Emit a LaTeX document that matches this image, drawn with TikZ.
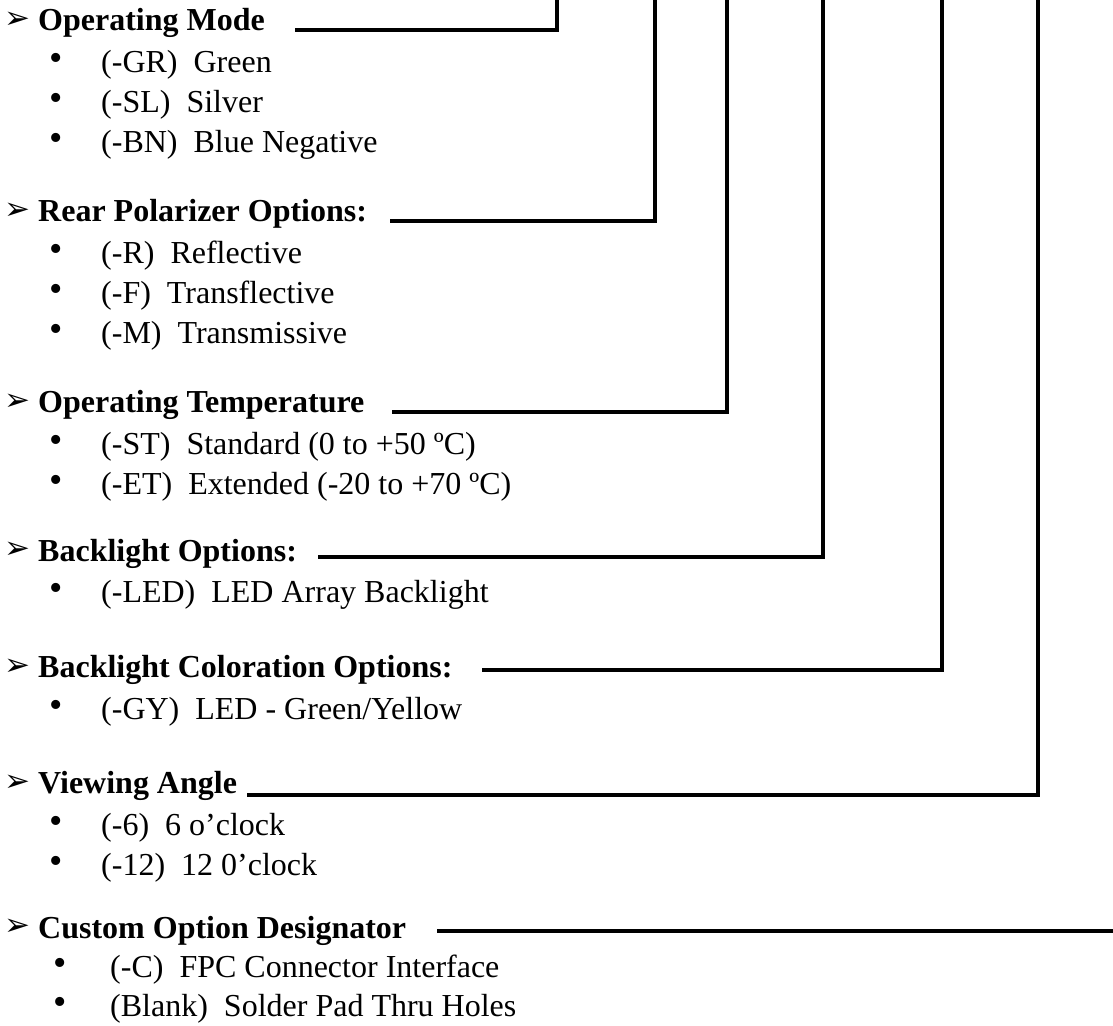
\documentclass[tikz,border=0pt]{standalone}
\usepackage{fontspec}
\setmainfont{Liberation Serif}
\newfontfamily\arrowfont{DejaVu Sans}
\begin{document}
\begin{tikzpicture}[x=1pt,y=-1pt,
  hdr/.style={anchor=base west,inner sep=0pt,font=\fontsize{32}{38}\selectfont\bfseries},
  itm/.style={anchor=base west,inner sep=0pt,font=\fontsize{32}{38}\selectfont},
  bul/.style={anchor=center,inner sep=0pt,font=\fontsize{38}{40}\selectfont},
  arr/.style={anchor=center,inner sep=0pt,font=\arrowfont\fontsize{31}{32}\selectfont},
  conn/.style={line width=3.3pt}]
\useasboundingbox (0,0) rectangle (1113,1025);
% ---- Section 1
\node[arr] (a1) at (17,20) {➢};
\node[hdr] (h1) at (38,30.5) {Operating Mode};
\node[bul] (b11) at (56,61.5) {•};
\node[itm] (i11) at (101,72) {(-GR)\ \ Green};
\node[bul] (b12) at (56,101.5) {•};
\node[itm] (i12) at (101,112) {(-SL)\ \ Silver};
\node[bul] (b13) at (56,141.5) {•};
\node[itm] (i13) at (101,152) {(-BN)\ \ Blue Negative};
% ---- Section 2
\node[arr] (a2) at (17,211) {➢};
\node[hdr] (h2) at (38,221.5) {Rear Polarizer Options:};
\node[bul] (b21) at (56,252.5) {•};
\node[itm] (i21) at (101,263) {(-R)\ \ Reflective};
\node[bul] (b22) at (56,292.5) {•};
\node[itm] (i22) at (101,303) {(-F)\ \ Transflective};
\node[bul] (b23) at (56,332.5) {•};
\node[itm] (i23) at (101,343) {(-M)\ \ Transmissive};
% ---- Section 3
\node[arr] (a3) at (17,402) {➢};
\node[hdr] (h3) at (38,412.5) {Operating Temperature};
\node[bul] (b31) at (56,443.5) {•};
\node[itm] (i31) at (101,454) {(-ST)\ \ Standard (0 to +50 ºC)};
\node[bul] (b32) at (56,483.5) {•};
\node[itm] (i32) at (101,494) {(-ET)\ \ Extended (-20 to +70 ºC)};
% ---- Section 4
\node[arr] (a4) at (17,550.5) {➢};
\node[hdr] (h4) at (38,561) {Backlight Options:};
\node[bul] (b41) at (56,592) {•};
\node[itm] (i41) at (101,602.5) {(-LED)\ \ LED Array Backlight};
% ---- Section 5
\node[arr] (a5) at (17,667) {➢};
\node[hdr] (h5) at (38,677.5) {Backlight Coloration Options:};
\node[bul] (b51) at (56,708.5) {•};
\node[itm] (i51) at (101,719) {(-GY)\ \ LED - Green/Yellow};
% ---- Section 6
\node[arr] (a6) at (17,783) {➢};
\node[hdr] (h6) at (38,793.5) {Viewing Angle};
\node[bul] (b61) at (56,824.5) {•};
\node[itm] (i61) at (101,835) {(-6)\ \ 6 o’clock};
\node[bul] (b62) at (56,864.5) {•};
\node[itm] (i62) at (101,875) {(-12)\ \ 12 0’clock};
% ---- Section 7
\node[arr] (a7) at (17,927.5) {➢};
\node[hdr] (h7) at (38,938) {Custom Option Designator};
\node[bul] (b71) at (60,967) {•};
\node[itm] (i71) at (110,977.5) {(-C)\ \ FPC Connector Interface};
\node[bul] (b72) at (60,1006) {•};
\node[itm] (i72) at (110,1016.5) {(Blank)\ \ Solder Pad Thru Holes};
% ---- connectors
\coordinate (s1) at (295,30);  \coordinate (t1) at (557,-5);
\coordinate (s2) at (390,221); \coordinate (t2) at (655,-5);
\coordinate (s3) at (392,412); \coordinate (t3) at (727,-5);
\coordinate (s4) at (318,557); \coordinate (t4) at (823,-5);
\coordinate (s5) at (482,670); \coordinate (t5) at (942,-5);
\coordinate (s6) at (247,795); \coordinate (t6) at (1038,-5);
\coordinate (s7) at (437,931); \coordinate (t7) at (1120,931);
\draw[conn] (s1) -| (t1);
\draw[conn] (s2) -| (t2);
\draw[conn] (s3) -| (t3);
\draw[conn] (s4) -| (t4);
\draw[conn] (s5) -| (t5);
\draw[conn] (s6) -| (t6);
\draw[conn] (s7) -- (t7);
\end{tikzpicture}
\end{document}
